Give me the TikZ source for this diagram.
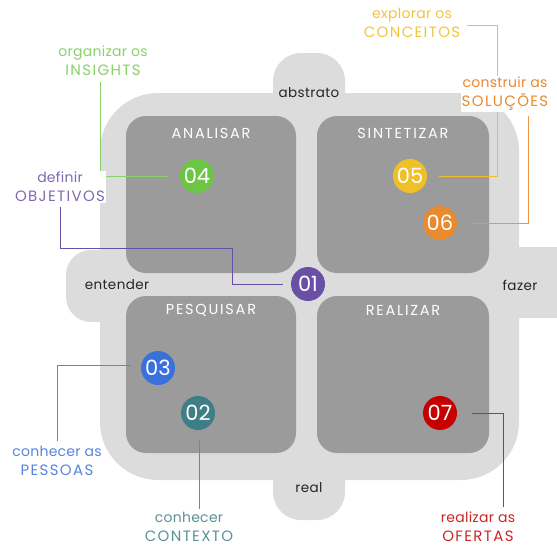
\documentclass[tikz,border=0pt]{standalone}
\usepackage{fontspec}
\setmainfont{Poppins}
\usetikzlibrary{positioning}

\definecolor{bglight}{HTML}{DCDCDC}
\definecolor{boxdark}{HTML}{9B9B9B}
\definecolor{cgreen}{HTML}{6CC644}
\definecolor{cpurple}{HTML}{6A4FA6}
\definecolor{cyellow}{HTML}{F0C028}
\definecolor{corange}{HTML}{E88A2E}
\definecolor{cblue}{HTML}{3A70DA}
\definecolor{cteal}{HTML}{3E7E86}
\definecolor{cred}{HTML}{C40000}

\newcommand{\wide}[1]{{\fontsize{15}{19}\selectfont\addfontfeatures{LetterSpace=9}#1}}

\tikzset{
  quad/.style={fill=boxdark, rounded corners=20pt},
  title/.style={text=white, font=\fontsize{14.5}{14.5}\selectfont\addfontfeatures{LetterSpace=12}},
  axis/.style={text=black!85, font=\fontsize{13.5}{13.5}\selectfont\addfontfeatures{LetterSpace=3}},
  num/.style={circle, minimum size=34pt, inner sep=0pt, text=white,
    font=\fontsize{21}{21}\selectfont},
  tag/.style={align=center, fill=white, inner sep=1pt,
    font=\fontsize{14}{19}\selectfont\addfontfeatures{LetterSpace=2}},
  lead/.style={line width=0.8pt}
}

\begin{document}
\begin{tikzpicture}[x=1pt,y=-1pt]
\useasboundingbox (0,0) rectangle (557,546);

% background with the four tabs
\fill[bglight, rounded corners=28pt] (273,53) rectangle (345,130);
\fill[bglight, rounded corners=28pt] (273,440) rectangle (345,520);
\fill[bglight, rounded corners=25pt] (66,250) rectangle (140,322);
\fill[bglight, rounded corners=25pt] (480,247) rectangle (590,318);
\fill[bglight, rounded corners=58pt] (100,93) rectangle (519,480);

% quadrants
\fill[quad] (126,116) rectangle (296,273);
\fill[quad] (317,116) rectangle (489,273);
\fill[quad] (126,296) rectangle (296,453);
\fill[quad] (317,296) rectangle (489,453);

\node[title] (analisar) at (211,133) {ANALISAR};
\node[title] (sintetizar) at (403,133) {SINTETIZAR};
\node[title] (pesquisar) at (211,310) {PESQUISAR};
\node[title] (realizar) at (403,310) {REALIZAR};

% axes
\node[axis] (abstrato) at (309,93) {abstrato};
\node[axis] (entender) at (117,285) {entender};
\node[axis] (fazer) at (520,285) {fazer};
\node[axis] (real) at (309,488) {real};

% steps
\node[num, fill=cpurple] (n1) at (308,284) {01};
\node[num, fill=cteal] (n2) at (198,413) {02};
\node[num, fill=cblue] (n3) at (158,368) {03};
\node[num, fill=cgreen] (n4) at (197,176) {04};
\node[num, fill=cyellow] (n5) at (410,176) {05};
\node[num, fill=corange] (n6) at (440,223) {06};
\node[num, fill=cred] (n7) at (440,413) {07};

% labels and leaders
\node[tag, text=cgreen!80!white] (insights) at (103,61) {organizar os\\\wide{INSIGHTS}};
\draw[lead, cgreen!80!white] ([xshift=-3pt,yshift=-5pt]insights.south) |- ([xshift=-12pt]n4.west);

\node[tag, text=cpurple!85!white] (objetivos) at (60,187) {definir\\\wide{OBJETIVOS}};
\coordinate (objbend) at (232,248);
\draw[lead, cpurple] ([yshift=-4pt]objetivos.south) |- (objbend) |- ([xshift=-8pt]n1.west);

\node[tag, text=cyellow!90!white] (conceitos) at (412,23) {explorar os\\\wide{CONCEITOS}};
\draw[lead, cyellow] ([xshift=6pt,yshift=-2pt]conceitos.east) -| (497,176) -- ([xshift=12pt]n5.east);

\node[tag, text=corange] (solucoes) at (505,94) {construir as\\\wide{SOLUÇÕES}};
\draw[lead, corange!90!white] ([xshift=23pt,yshift=-4pt]solucoes.south) |- ([xshift=14pt]n6.east);

\node[tag, text=cblue!85!white] (pessoas) at (57,461) {conhecer as\\\wide{PESSOAS}};
\draw[lead, cblue!85!white] ([xshift=-10pt,yshift=3pt]n3.west) -| ([yshift=4pt]pessoas.north);

\node[tag, text=cteal!85!white] (contexto) at (189,527) {conhecer\\\wide{CONTEXTO}};
\draw[lead, cteal!85!white] ([xshift=1pt,yshift=-10pt]n2.south) -- ([xshift=10pt,yshift=2pt]contexto.north);

\node[tag, text=cred!85!white] (ofertas) at (478,527) {realizar as\\\wide{OFERTAS}};
\draw[lead, cred!85!white] ([xshift=15pt]n7.east) -| ([xshift=25pt,yshift=4pt]ofertas.north);
\end{tikzpicture}
\end{document}
